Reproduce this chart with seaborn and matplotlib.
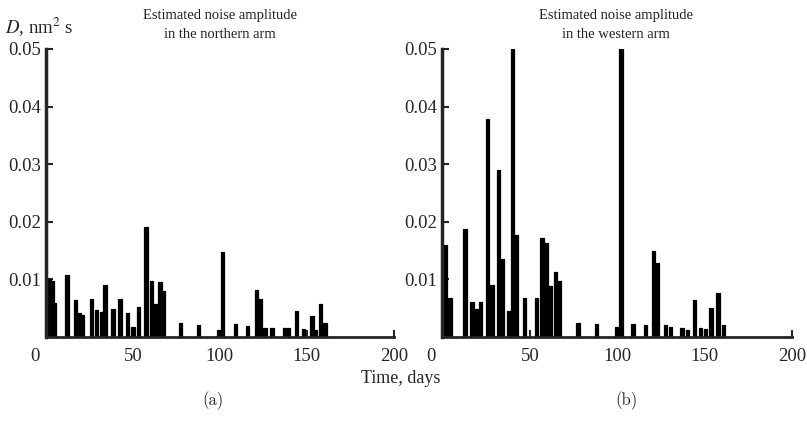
import numpy as np
import pandas as pd
from matplotlib import pyplot as plt
from matplotlib import transforms
import seaborn as sns

# northern arm (a): day, estimated noise amplitude D
north_days = [2, 3.5, 5, 12, 17, 19, 21, 26, 29, 32, 34, 38.5, 42.5, 47, 50, 53,
              57.5, 60.5, 63, 65.5, 67.5, 77.5, 87.5, 99.5, 101.5, 109, 116, 121,
              123, 126, 130, 137, 139.5, 144, 148, 153, 155, 158, 160.5]
north_vals = [0.0100, 0.0098, 0.0059, 0.0108, 0.0064, 0.0042, 0.0039, 0.0066,
              0.0047, 0.0044, 0.0091, 0.0048, 0.0066, 0.0041, 0.0017, 0.0052,
              0.0191, 0.0097, 0.0058, 0.0095, 0.0079, 0.0025, 0.0021, 0.0012,
              0.0147, 0.0022, 0.0019, 0.0081, 0.0066, 0.0015, 0.0016, 0.0015,
              0.0016, 0.0045, 0.0014, 0.0036, 0.0013, 0.0058, 0.0025]

# western arm (b)
west_days = [2, 4.5, 13, 17, 19.5, 22, 26, 28.5, 32, 34.5, 38, 40, 42.5, 47, 54,
             57, 59.5, 62, 64.5, 67, 77.5, 88, 99.5, 102, 109, 116, 120.5, 123,
             127.5, 130.5, 137, 140, 144, 147.5, 150.5, 153.5, 157.5, 160.5]
west_vals = [0.0160, 0.0068, 0.0188, 0.0060, 0.0048, 0.0060, 0.0378, 0.0090,
             0.0289, 0.0135, 0.0045, 0.0500, 0.0177, 0.0067, 0.0068, 0.0172,
             0.0163, 0.0088, 0.0112, 0.0098, 0.0025, 0.0022, 0.0018, 0.0500,
             0.0023, 0.0020, 0.0150, 0.0128, 0.0020, 0.0018, 0.0015, 0.0013,
             0.0064, 0.0016, 0.0014, 0.0050, 0.0076, 0.0020]

panel_titles = ['Estimated noise amplitude\nin the northern arm',
                'Estimated noise amplitude\nin the western arm']
x_ticks = [0, 50, 100, 150, 200]
y_ticks = [0.01, 0.02, 0.03, 0.04, 0.05]
y_ticklabels = ['0.01', '0.02', '0.03', '0.04', '0.05']

sns.set_style('ticks')
plt.rcParams['font.family'] = ['Liberation Serif', 'DejaVu Serif']
plt.rcParams['mathtext.fontset'] = 'stix'

fig = plt.figure(figsize=(8.07, 4.25), dpi=100)
ax_a = fig.add_axes([0.057, 0.207, 0.431, 0.678])
ax_b = fig.add_axes([0.548, 0.207, 0.434, 0.678])

bar_width = 1.9  # days

for ax, days, vals in [(ax_a, north_days, north_vals), (ax_b, west_days, west_vals)]:
    df = pd.DataFrame({'day': days, 'D': vals})
    sns.barplot(data=df, x='day', y='D', native_scale=True, color='black',
                errorbar=None, saturation=1, edgecolor='black', linewidth=0.9, ax=ax)
    # force a constant bar width in days, keeping each bar centred on its day
    for p in ax.patches:
        cx = p.get_x() + p.get_width() / 2
        p.set_width(bar_width)
        p.set_x(cx - bar_width / 2)
        p.set_joinstyle('round')
    ax.set_xlim(0, 200)
    ax.set_ylim(0, 0.05)
    ax.set_xticks(x_ticks)
    ax.set_xticklabels([str(t) for t in x_ticks])
    ax.set_yticks(y_ticks)
    ax.set_yticklabels(y_ticklabels)
    ax.set_xlabel('')
    ax.set_ylabel('')
    sns.despine(ax=ax)
    ax.spines['left'].set_linewidth(2.5)
    ax.spines['bottom'].set_linewidth(2.0)
    ax.tick_params(direction='in', length=5, width=1.5, labelsize=13.5)
    ax.tick_params(axis='x', pad=8)
    # the zero label sits a little left of the axis in the original
    zero = ax.get_xticklabels()[0]
    zero.set_transform(zero.get_transform() + transforms.ScaledTranslation(-0.11, 0, fig.dpi_scale_trans))

fig.text(0.273, 0.941, panel_titles[0], ha='center', va='center', fontsize=10.5,
         linespacing=1.55, color='#222222')
fig.text(0.763, 0.941, panel_titles[1], ha='center', va='center', fontsize=10.5,
         linespacing=1.55, color='#222222')
fig.text(0.006, 0.935, r'$D$, nm$^2$ s', ha='left', va='center', fontsize=13.5)
fig.text(0.497, 0.11, 'Time, days', ha='center', va='center', fontsize=13)
fig.text(0.264, 0.058, '(a)', ha='center', va='center', fontsize=12, family='cmr10')
fig.text(0.776, 0.058, '(b)', ha='center', va='center', fontsize=12, family='cmr10')

plt.savefig('out.png', dpi=100)
